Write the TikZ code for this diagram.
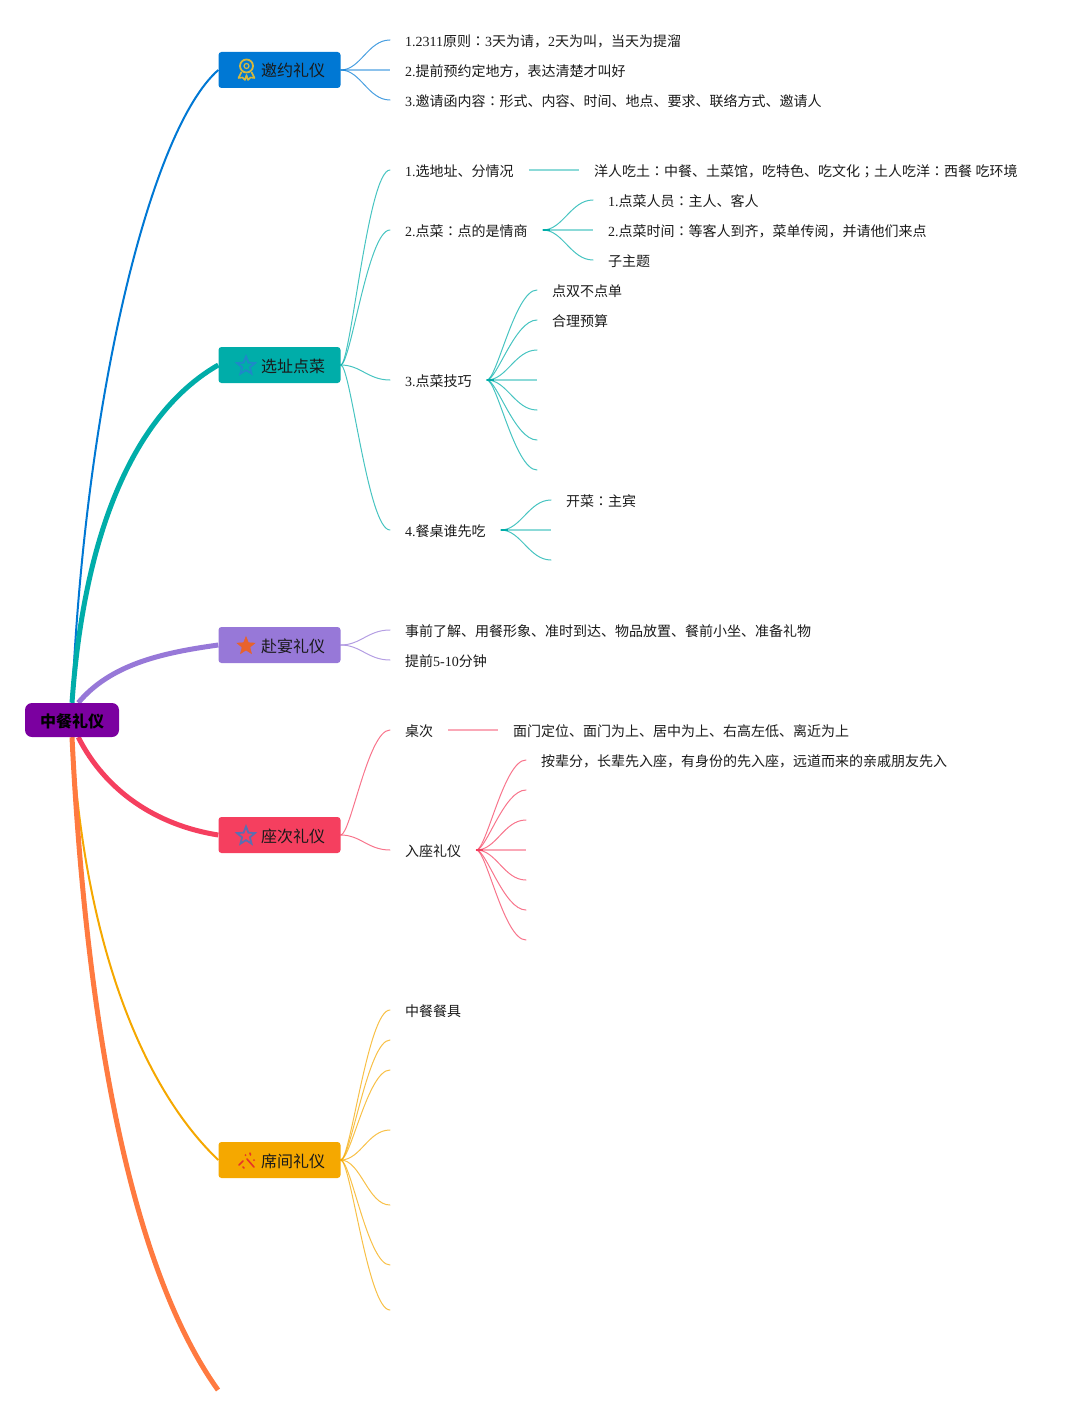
\documentclass[tikz,border=0pt]{standalone}
\usepackage{fontspec}
\usetikzlibrary{shapes.geometric,backgrounds}
\setmainfont{Noto Sans CJK SC}
\newfontfamily\latf{Liberation Serif}
\newfontfamily\tcf{Noto Sans CJK TC}
\newcommand{\La}[1]{{\latf #1}}
\newcommand{\Cl}{{\tcf ：}}
\newcommand{\Sc}{{\tcf ；}}
\newcommand{\Tp}[1]{\hspace{27pt}#1}
\definecolor{cblue}{HTML}{0078D4}
\definecolor{cteal}{HTML}{00ADA9}
\definecolor{cpurp}{HTML}{9778D8}
\definecolor{cred}{HTML}{F53F5F}
\definecolor{cyel}{HTML}{F5A800}
\definecolor{corg}{HTML}{FF7A40}
\definecolor{croot}{HTML}{7B00A0}
\definecolor{ink}{HTML}{1A1A1A}
\definecolor{cgold}{HTML}{D6B83C}
\definecolor{cstarb}{HTML}{1E88C8}
\definecolor{cstaro}{HTML}{E8622C}
\definecolor{cstars}{HTML}{5C6EB0}
\definecolor{cspark}{HTML}{E63329}
\newcommand{\bra}[3]{\draw[#1,curve] (#2) .. controls +(10,0) and +(-22,0) .. (#3);}
\newcommand{\brb}[3]{\draw[#1,curve] (#2) .. controls +(20,0) and +(-22,0) .. (#3);}
\newcommand{\stub}[2]{\draw[#1,line width=2pt] (#2) -- +(7,0);}
\tikzset{
  x=1pt,y=-1pt,
  curve/.style={line width=1pt,line cap=round,opacity=.72},
  flat/.style={line width=2pt,opacity=.45},
  trunk/.style={line width=#1},
  topic/.style={fill=#1,rounded corners=3pt,minimum width=122pt,minimum height=36pt,inner sep=0pt,text=ink,font=\fontsize{16}{18}\selectfont,text height=15pt,text depth=1pt},
  rootbox/.style={fill=croot,rounded corners=7pt,minimum width=94pt,minimum height=34pt,inner sep=0pt,text=black,font=\fontsize{16}{18}\bfseries\selectfont,text height=15pt,text depth=1pt},
  leaf/.style={anchor=west,inner sep=0pt,text=ink,font=\fontsize{14}{16}\selectfont,text height=14pt,text depth=1.4pt},
  icon/.style={star,star points=5,star point ratio=2.3,minimum size=19pt,inner sep=0pt},
}
\begin{document}
\begin{tikzpicture}
\useasboundingbox (0,0) rectangle (1078,1415);
% nodes
\node[rootbox] (root) at (72,720) {中餐礼仪};
\node[topic=cblue] (t1) at (279.5,70) {\Tp{邀约礼仪}};
\node[topic=cteal] (t2) at (279.5,365) {\Tp{选址点菜}};
\node[topic=cpurp] (t3) at (279.5,645) {\Tp{赴宴礼仪}};
\node[topic=cred] (t4) at (279.5,835) {\Tp{座次礼仪}};
\node[topic=cyel] (t5) at (279.5,1160) {\Tp{席间礼仪}};
\coordinate (t6) at (218,1390);
% leaves
\node[leaf] (a1) at (405,40) {\La{1.2311}原则\Cl\La{3}天为请，\La{2}天为叫，当天为提溜};
\node[leaf] (a2) at (405,70) {\La{2.}提前预约定地方，表达清楚才叫好};
\node[leaf] (a3) at (405,100) {\La{3.}邀请函内容\Cl 形式、内容、时间、地点、要求、联络方式、邀请人};
\node[leaf] (b1) at (405,170) {\La{1.}选地址、分情况};
\node[leaf] (b1x) at (594,170) {洋人吃土\Cl 中餐、土菜馆，吃特色、吃文化\Sc 土人吃洋\Cl 西餐\La{\ }吃环境};
\node[leaf] (b2) at (405,230) {\La{2.}点菜\Cl 点的是情商};
\node[leaf] (b21) at (608,200) {\La{1.}点菜人员\Cl 主人、客人};
\node[leaf] (b22) at (608,230) {\La{2.}点菜时间\Cl 等客人到齐，菜单传阅，并请他们来点};
\node[leaf] (b23) at (608,260) {子主题};
\node[leaf] (b3) at (405,380) {\La{3.}点菜技巧};
\node[leaf] (b31) at (552,290) {点双不点单};
\node[leaf] (b32) at (552,320) {合理预算};
\coordinate (b33) at (537,350);
\coordinate (b34) at (537,380);
\coordinate (b35) at (537,410);
\coordinate (b36) at (537,440);
\coordinate (b37) at (537,470);
\node[leaf] (b4) at (405,530) {\La{4.}餐桌谁先吃};
\node[leaf] (b41) at (566,500) {开菜\Cl 主宾};
\coordinate (b42) at (551,530);
\coordinate (b43) at (551,560);
\node[leaf] (c1) at (405,630) {事前了解、用餐形象、准时到达、物品放置、餐前小坐、准备礼物};
\node[leaf] (c2) at (405,660) {提前\La{5-10}分钟};
\node[leaf] (d1) at (405,730) {桌次};
\node[leaf] (d1x) at (513,730) {面门定位、面门为上、居中为上、右高左低、离近为上};
\node[leaf] (d2) at (405,850) {入座礼仪};
\node[leaf] (d21) at (541,760) {按辈分，长辈先入座，有身份的先入座，远道而来的亲戚朋友先入};
\coordinate (d22) at (526,790);
\coordinate (d23) at (526,820);
\coordinate (d24) at (526,850);
\coordinate (d25) at (526,880);
\coordinate (d26) at (526,910);
\coordinate (d27) at (526,940);
\node[leaf] (e1) at (405,1010) {中餐餐具};
\coordinate (e2) at (390,1040);
\coordinate (e3) at (390,1070);
\coordinate (e4) at (390,1130);
\coordinate (e5) at (390,1205);
\coordinate (e6) at (390,1265);
\coordinate (e7) at (390,1310);
% trunks behind boxes
\begin{scope}[on background layer]
\draw[cblue,trunk=2pt] (root.north) .. controls (85,400) and (150,130) .. (t1.west);
\draw[cteal,trunk=5pt] (root.north) .. controls (85,520) and (140,410) .. (t2.west);
\draw[cpurp,trunk=5pt] (root.70) .. controls (110,665) and (160,653) .. (t3.west);
\draw[cyel,trunk=2pt] (root.south) .. controls (85,950) and (145,1090) .. (t5.west);
\draw[corg,trunk=5pt] (root.south) .. controls (85,1000) and (125,1260) .. (t6);
\draw[cred,trunk=5pt] (root.-70) .. controls (105,790) and (155,825) .. (t4.west);
\end{scope}
% branches
\brb{cblue}{t1.east}{[xshift=-15pt]a1.west}
\draw[cblue,flat] (t1.east) -- ([xshift=-15pt]a2.west);
\brb{cblue}{t1.east}{[xshift=-15pt]a3.west}
\bra{cteal}{t2.east}{[xshift=-15pt]b1.west}
\bra{cteal}{t2.east}{[xshift=-15pt]b2.west}
\brb{cteal}{t2.east}{[xshift=-15pt]b3.west}
\bra{cteal}{t2.east}{[xshift=-15pt]b4.west}
\draw[cteal,flat] ([xshift=15pt]b1.east) -- ([xshift=-15pt]b1x.west);
\stub{cteal}{[xshift=15pt]b2.east}
\brb{cteal}{[xshift=15pt]b2.east}{[xshift=-15pt]b21.west}
\draw[cteal,flat] ([xshift=15pt]b2.east) -- ([xshift=-15pt]b22.west);
\brb{cteal}{[xshift=15pt]b2.east}{[xshift=-15pt]b23.west}
\stub{cteal}{[xshift=15pt]b3.east}
\bra{cteal}{[xshift=15pt]b3.east}{[xshift=-15pt]b31.west}
\bra{cteal}{[xshift=15pt]b3.east}{[xshift=-15pt]b32.west}
\brb{cteal}{[xshift=15pt]b3.east}{b33}
\draw[cteal,flat] ([xshift=15pt]b3.east) -- (b34);
\brb{cteal}{[xshift=15pt]b3.east}{b35}
\bra{cteal}{[xshift=15pt]b3.east}{b36}
\bra{cteal}{[xshift=15pt]b3.east}{b37}
\stub{cteal}{[xshift=15pt]b4.east}
\brb{cteal}{[xshift=15pt]b4.east}{[xshift=-15pt]b41.west}
\draw[cteal,flat] ([xshift=15pt]b4.east) -- (b42);
\brb{cteal}{[xshift=15pt]b4.east}{b43}
\brb{cpurp}{t3.east}{[xshift=-15pt]c1.west}
\brb{cpurp}{t3.east}{[xshift=-15pt]c2.west}
\bra{cred}{t4.east}{[xshift=-15pt]d1.west}
\brb{cred}{t4.east}{[xshift=-15pt]d2.west}
\draw[cred,flat] ([xshift=15pt]d1.east) -- ([xshift=-15pt]d1x.west);
\stub{cred}{[xshift=15pt]d2.east}
\bra{cred}{[xshift=15pt]d2.east}{[xshift=-15pt]d21.west}
\bra{cred}{[xshift=15pt]d2.east}{d22}
\brb{cred}{[xshift=15pt]d2.east}{d23}
\draw[cred,flat] ([xshift=15pt]d2.east) -- (d24);
\brb{cred}{[xshift=15pt]d2.east}{d25}
\bra{cred}{[xshift=15pt]d2.east}{d26}
\bra{cred}{[xshift=15pt]d2.east}{d27}
\bra{cyel}{t5.east}{[xshift=-15pt]e1.west}
\bra{cyel}{t5.east}{e2}
\bra{cyel}{t5.east}{e3}
\brb{cyel}{t5.east}{e4}
\brb{cyel}{t5.east}{e5}
\bra{cyel}{t5.east}{e6}
\bra{cyel}{t5.east}{e7}
% icons
\draw[cgold,line width=1.8pt] (246.5,66) circle (6.5);
\draw[cgold,line width=1.2pt] (246.5,66) circle (2.5);
\draw[cgold,line width=1.6pt,line join=round] (241.5,72) -- (238.5,78) -- (242.5,77.5) -- (245,80) -- (246.5,75) -- (248,80) -- (250.5,77.5) -- (254.5,78) -- (251.5,72);
\node[icon,draw=cstarb,line width=1.8pt] (i2) at (246,366) {};
\node[icon,fill=cstaro,draw=cstaro] (i3) at (246,646) {};
\node[icon,draw=cstars,line width=1.8pt] (i4) at (246,836) {};
\begin{scope}[cspark,line width=1.6pt,line cap=round]
\draw (239,1165) -- (243,1161);
\draw (247,1159) -- (254,1167);
\draw (243,1167) -- (244,1168);
\draw (250,1153) -- (250.5,1155);
\fill (245.5,1155) circle (1);
\fill (254,1160) circle (1);
\end{scope}
\end{tikzpicture}
\end{document}
